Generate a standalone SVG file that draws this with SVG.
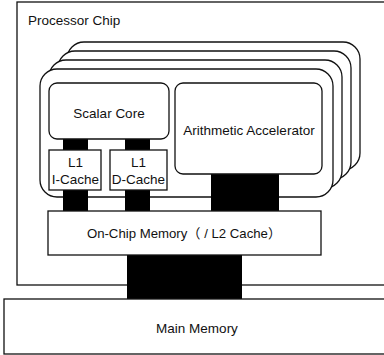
<svg xmlns="http://www.w3.org/2000/svg" width="384" height="355" viewBox="0 0 384 355">
<style>
.box{fill:#fff;stroke:#111;stroke-width:1.3}
.bus{fill:#000;stroke:none}
.t{font-family:"Liberation Sans",Arial,"Noto Sans CJK SC",sans-serif;font-size:13.5px;fill:#111}
.c{text-anchor:middle}
</style>
<rect width="384" height="355" fill="#fff"/>
<g id="processor-chip">
<rect class="box" x="17" y="2" width="380" height="283"/>
<text class="t" x="28" y="25">Processor Chip</text>
</g>
<g id="core-stack">
<rect class="box" x="67" y="42" width="293" height="128" rx="17"/>
<rect class="box" x="58" y="51" width="293" height="128" rx="17"/>
<rect class="box" x="49" y="60" width="293" height="128" rx="17"/>
<rect class="box" x="40" y="69" width="293" height="128" rx="17"/>
</g>
<g id="connectors">
<rect class="bus" x="63" y="139" width="25" height="11"/>
<rect class="bus" x="125" y="139" width="25" height="11"/>
<rect class="bus" x="63" y="190" width="25" height="21"/>
<rect class="bus" x="125" y="190" width="25" height="21"/>
<rect class="bus" x="211" y="174" width="68" height="37"/>
<rect class="bus" x="127" y="255" width="115" height="44"/>
</g>
<g id="scalar-core">
<rect class="box" x="49" y="83" width="120" height="56" rx="8"/>
<text class="t c" x="109" y="118">Scalar Core</text>
</g>
<g id="arithmetic-accelerator">
<rect class="box" x="175" y="83" width="147" height="91" rx="8"/>
<text class="t c" x="249" y="135">Arithmetic Accelerator</text>
</g>
<g id="l1-icache">
<rect class="box" x="49" y="150" width="52" height="40"/>
<text class="t c" x="75.5" y="167">L1</text>
<text class="t c" x="75.5" y="184">I-Cache</text>
</g>
<g id="l1-dcache">
<rect class="box" x="110" y="150" width="57" height="40"/>
<text class="t c" x="138.5" y="167">L1</text>
<text class="t c" x="138.5" y="184">D-Cache</text>
</g>
<g id="on-chip-memory">
<rect class="box" x="48" y="211" width="273" height="44"/>
<text class="t c" x="184" y="238" style="font-size:13.2px">On-Chip Memory（ / L2 Cache）</text>
</g>
<g id="main-memory">
<rect class="box" x="4" y="299" width="390" height="55"/>
<text class="t c" x="197" y="333">Main Memory</text>
</g>
</svg>
